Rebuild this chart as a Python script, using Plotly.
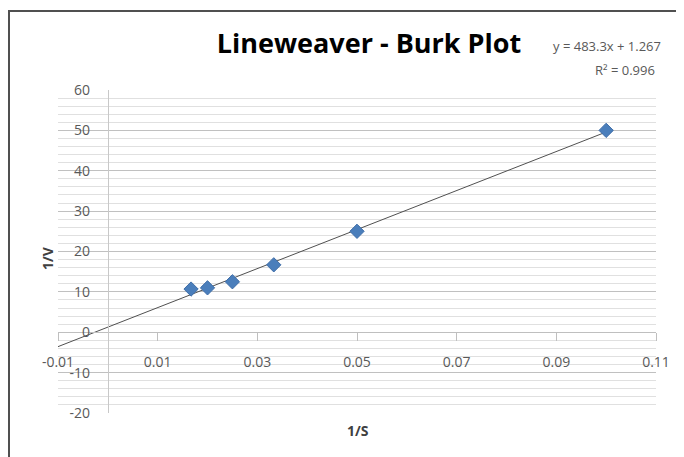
import plotly.graph_objects as go

# Data
inv_s = [0.0167, 0.02, 0.025, 0.0333, 0.05, 0.1]
inv_v = [10.7, 11.0, 12.5, 16.7, 25.0, 50.0]

# Trendline from displayed equation
slope = 483.3
intercept = 1.267
r2 = 0.996
trend_x = [-0.01, 0.1]
trend_y = [slope * x + intercept for x in trend_x]

x_range = [-0.01, 0.11]
y_range = [-20, 60]
x_ticks = [-0.01, 0.01, 0.03, 0.05, 0.07, 0.09, 0.11]
y_ticks = [-20, -10, 0, 10, 20, 30, 40, 50, 60]

font_family = "Open Sans, Noto Sans, sans-serif"
tick_color = "#595959"

# plot-area geometry in figure pixels
L, T, W, H = 50, 82, 598, 323
FW, FH = 684, 457


def px(x):
    return (x - L) / W


def py(y):
    return (T + H - y) / H


fig = go.Figure()
fig.add_trace(go.Scatter(
    x=trend_x, y=trend_y, mode="lines",
    line=dict(color="#505050", width=1), showlegend=False, hoverinfo="skip"))
fig.add_trace(go.Scatter(
    x=inv_s, y=inv_v, mode="markers",
    marker=dict(symbol="diamond", size=11, color="#4A7EBB",
                line=dict(color="#3E6DA8", width=1)),
    showlegend=False))

x_pos0 = (0 - x_range[0]) / (x_range[1] - x_range[0])
y_pos0 = (0 - y_range[0]) / (y_range[1] - y_range[0])

fig.update_layout(
    width=FW, height=FH,
    margin=dict(l=L, r=FW - L - W, t=T, b=FH - T - H),
    paper_bgcolor="white", plot_bgcolor="white",
    font=dict(family=font_family, color=tick_color, size=14),
    title=dict(text="<b>Lineweaver - Burk Plot</b>",
               font=dict(family=font_family, size=27, color="#000000"),
               x=361 / FW, xanchor="center", y=1 - 36 / FH, yanchor="middle"),
    xaxis=dict(range=x_range, tickvals=x_ticks,
               ticktext=[f"{v:g}" for v in x_ticks],
               anchor="free", position=y_pos0, automargin=False,
               showline=True, linecolor="#bfbfbf", linewidth=1,
               ticks="outside", ticklen=8, tickcolor="#bfbfbf",
               ticklabelstandoff=9,
               showgrid=False, zeroline=False,
               tickfont=dict(size=14, color=tick_color)),
    yaxis=dict(range=y_range, tickvals=y_ticks,
               ticktext=[f"{v:g}" for v in y_ticks],
               anchor="free", position=x_pos0, automargin=False,
               showline=True, linecolor="#c8c8c8", linewidth=1,
               ticks="", ticklabelstandoff=15,
               showgrid=True, gridcolor="#c0c0c0", gridwidth=1,
               minor=dict(dtick=2, tick0=0, showgrid=True, gridcolor="#e0e0e0", gridwidth=1),
               zeroline=False,
               tickfont=dict(size=14, color=tick_color)),
    annotations=[
        dict(text=f"y = {slope}x + {intercept}", xref="paper", yref="paper",
             x=px(543), y=py(38), xanchor="left", yanchor="middle",
             showarrow=False, font=dict(size=13, color=tick_color)),
        dict(text=f"R² = {r2}", xref="paper", yref="paper",
             x=px(649), y=py(62), xanchor="right", yanchor="middle",
             showarrow=False, font=dict(size=13, color=tick_color)),
        dict(text="<b>1/S</b>", xref="paper", yref="paper",
             x=px(350), y=py(422), xanchor="center", yanchor="middle",
             showarrow=False, font=dict(size=14, color="#404040")),
        dict(text="<b>1/V</b>", xref="paper", yref="paper", textangle=-90,
             x=px(39), y=py(250), xanchor="center", yanchor="middle",
             showarrow=False, font=dict(size=14, color="#404040")),
    ],
    shapes=[dict(type="rect", xref="paper", yref="paper",
                 x0=px(1), x1=px(720), y0=py(480), y1=py(3),
                 line=dict(color="#505050", width=2), layer="below")],
)

fig.write_html("out.html")
